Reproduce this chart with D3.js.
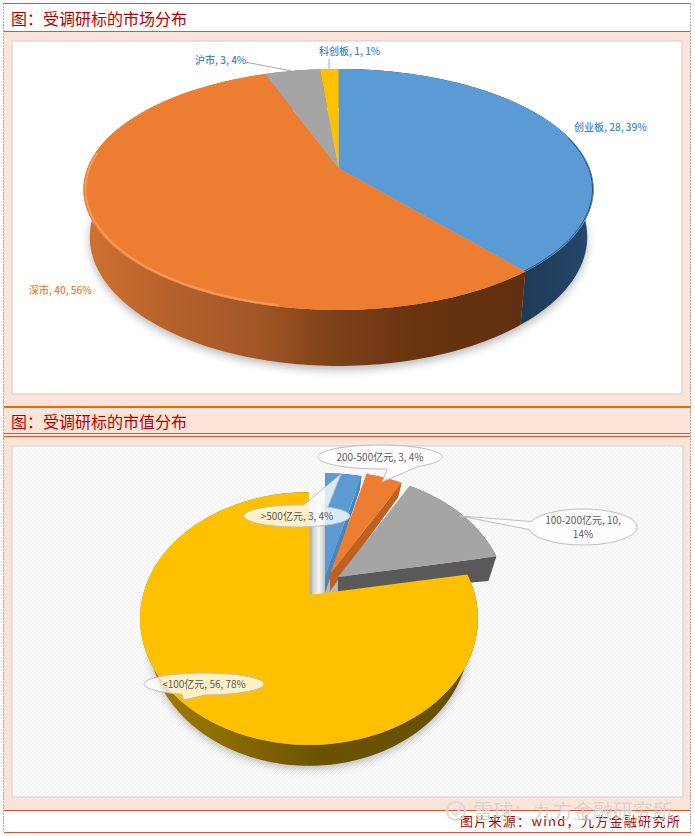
<!DOCTYPE html>
<html lang="zh">
<head>
<meta charset="UTF-8"/>
<title>受调研标的分布</title>
<script src="https://d3js.org/d3.v7.min.js"></script>
<style>
    html, body { margin: 0; padding: 0; background: #fff; }
    svg { display: block; }
    text { font-family: "Noto Sans CJK SC", sans-serif; }
</style>
</head>
<body>
<script>
    // chart 1: market
    var marketNames = ["创业板", "深市", "沪市", "科创板"];
    var marketValues = [28, 40, 3, 1];
    var marketPcts = ["39%", "56%", "4%", "1%"];

    // chart 2: market cap
    var capNames = [">500亿元", "200-500亿元", "100-200亿元", "<100亿元"];
    var capValues = [3, 3, 10, 56];
    var capPcts = ["4%", "4%", "14%", "78%"];

    var titles = ["图：受调研标的市场分布", "图：受调研标的市值分布"];
    var sourceText = "图片来源：wind，九方金融研究所";
    var watermark = "雪球：九方金融研究所";

    var w = 695, h = 836;
    var svg = d3.select("body").append("svg").attr("width", w).attr("height", h);
    var defs = svg.append("defs");

    function gradient(id, x1, x2, stops) {
        var g = defs.append("linearGradient").attr("id", id)
            .attr("gradientUnits", "userSpaceOnUse")
            .attr("x1", x1).attr("x2", x2).attr("y1", 0).attr("y2", 0);
        stops.forEach(function(s) {
            g.append("stop").attr("offset", s[0]).attr("stop-color", s[1]);
        });
        return "url(#" + id + ")";
    }

    var pat = defs.append("pattern").attr("id", "hatch").attr("width", 4).attr("height", 4)
        .attr("patternUnits", "userSpaceOnUse");
    pat.append("rect").attr("width", 4).attr("height", 4).attr("fill", "#fcfcfc");
    pat.append("path").attr("d", "M0,4L4,0").attr("stroke", "#efefef").attr("stroke-width", 1);

    defs.append("filter").attr("id", "blur").attr("x", "-10%").attr("y", "-10%")
        .attr("width", "120%").attr("height", "120%")
        .append("feGaussianBlur").attr("stdDeviation", 4);
    defs.append("filter").attr("id", "soft").attr("x", "-10%").attr("y", "-10%")
        .attr("width", "120%").attr("height", "120%")
        .append("feGaussianBlur").attr("stdDeviation", 0.6);

    // page frame
    var rule = "#e2512a";
    svg.append("rect").attr("x", 4).attr("y", 32).attr("width", 687).attr("height", 778).attr("fill", "#fde4d8");
    svg.append("rect").attr("x", 12).attr("y", 41).attr("width", 670).attr("height", 353)
        .attr("fill", "#fff").attr("stroke", "#c5ced6");
    svg.append("rect").attr("x", 12).attr("y", 446).attr("width", 671).attr("height", 351)
        .attr("fill", "url(#hatch)").attr("stroke", "#cfcfcf");
    svg.append("rect").attr("x", 4).attr("y", 811).attr("width", 687).attr("height", 21).attr("fill", "#fff");

    [[3.5, 1], [31.5, 1], [407, 2], [433.5, 1], [436.5, 1], [810.5, 1], [832.5, 1]].forEach(function(r) {
        svg.append("line").attr("x1", 4).attr("x2", 691).attr("y1", r[0]).attr("y2", r[0])
            .attr("stroke", r[0] == 407 ? "#e36c09" : rule).attr("stroke-width", r[1]);
    });
    [3.5, 690.5].forEach(function(x) {
        svg.append("line").attr("x1", x).attr("x2", x).attr("y1", 3).attr("y2", 832)
            .attr("stroke", "#aaa").attr("stroke-dasharray", "2,1");
    });

    svg.selectAll("text.title").data(titles).enter().append("text")
        .attr("class", "title")
        .attr("x", 11)
        .attr("y", function(d, i) { return i == 0 ? 25 : 428; })
        .attr("font-size", 16)
        .attr("fill", "#b80000")
        .text(function(d) { return d; });

    // a circle seen in perspective: v is towards the viewer, k is the foreshortening,
    // taper narrows the lower face of the disc
    function projector(cx, cy, R, S, k, depth, taper) {
        return function(a, r, down, shift) {
            var u = r * Math.sin(a), v = -r * Math.cos(a), q = 1 - k * v;
            var t = down ? taper : 1;
            return [cx + t * R * u / q + shift[0],
                    cy + S * v / q + shift[1] + (down ? depth / q : 0)];
        };
    }

    var line = d3.line();

    function arcPts(p, a0, a1, down, shift, r) {
        var n = Math.max(2, Math.ceil((a1 - a0) / 0.02));
        return d3.range(n + 1).map(function(i) {
            return p(a0 + (a1 - a0) * i / n, r || 1, down, shift);
        });
    }

    function drawWall(g, p, d, shift, wall) {
        var upper = arcPts(p, d.startAngle, d.endAngle, false, shift);
        var lower = arcPts(p, d.startAngle, d.endAngle, true, shift);
        g.append("path").attr("d", line(upper.concat(lower.reverse())) + "Z").attr("fill", wall);
    }

    // flat face left by the explosion, along the slice's end angle
    function drawCut(g, p, d, shift, cut, outerExtra) {
        var low = p(d.endAngle, 1, true, shift);
        g.append("path").attr("d", line([
            p(0, 0, false, shift), p(d.endAngle, 1, false, shift),
            [low[0], low[1] + outerExtra], p(0, 0, true, shift)
        ]) + "Z").attr("fill", cut);
    }

    function drawTop(g, p, d, shift, top) {
        var upper = arcPts(p, d.startAngle, d.endAngle, false, shift);
        g.append("path").attr("d", line([p(0, 0, false, shift)].concat(upper)) + "Z").attr("fill", top);
    }

    function shadow(g, p, a0, a1, dy, shift) {
        g.append("path")
            .attr("d", line(arcPts(p, a0, a1, true, [shift[0], shift[1] + dy])) + "Z")
            .attr("fill", "#555").attr("opacity", 0.4).attr("filter", "url(#blur)");
    }

    var pie = d3.pie().sort(null);
    var noShift = [0, 0];

    // ---- chart 1
    var p1 = projector(338.5, 168, 251, 116.7, 0.178, 46, 0.975);
    var arcs1 = pie(marketValues);
    var g1 = svg.append("g");
    var wall1 = [
        gradient("w1a", 525, 594, [[0, "#1e3a56"], [1, "#25486c"]]),
        gradient("w1b", 83, 525, [[0, "#d07230"], [0.2, "#b5612b"], [0.4, "#a25626"], [0.55, "#7f4219"], [0.75, "#693411"], [1, "#5f2f0f"]]),
        "#777", "#997000"
    ];
    var top1 = ["#5b9bd5", "#ed7d31", "#a5a5a5", "#ffc000"];

    shadow(g1, p1, 0, 2 * Math.PI, 4, noShift);
    arcs1.forEach(function(d, i) { drawWall(g1, p1, d, noShift, wall1[i]); });
    arcs1.forEach(function(d, i) { drawTop(g1, p1, d, noShift, top1[i]); });

    // light bevel along the orange rim, darker soft edge along the blue one
    g1.append("path")
        .attr("d", line(arcPts(p1, arcs1[1].startAngle + 0.9, 4.85, false, noShift, 0.992)))
        .attr("fill", "none").attr("stroke", "#f59a5c").attr("stroke-width", 2).attr("filter", "url(#soft)");
    g1.append("path")
        .attr("d", line(arcPts(p1, 1.3, arcs1[0].endAngle, false, noShift, 0.996)))
        .attr("fill", "none").attr("stroke", "#2b4f75").attr("stroke-width", 1).attr("filter", "url(#soft)");

    var labelPos1 = [[574, 131], [29, 294], [195, 64], [319, 55]];
    var labelCol1 = ["#3f87c9", "#ed7d31", "#3f87c9", "#3f87c9"];
    g1.selectAll("text").data(arcs1).enter().append("text")
        .attr("x", function(d, i) { return labelPos1[i][0]; })
        .attr("y", function(d, i) { return labelPos1[i][1]; })
        .attr("font-size", 10)
        .attr("font-weight", 500)
        .attr("fill", function(d, i) { return labelCol1[i]; })
        .text(function(d, i) { return marketNames[i] + ", " + d.value + ", " + marketPcts[i]; });

    g1.append("path").attr("d", "M245,62L292,71M329,59L329,69").attr("stroke", "#a6a6a6").attr("fill", "none");

    // ---- chart 2
    var p2 = projector(309, 595, 166, 122, 0.186, 17, 0.95);
    var arcs2 = pie(capValues);
    var g2 = svg.append("g");
    var explode = [[16, -19], [21, -21], [29, -18], [0, 0]];
    var top2 = ["#5b9bd5", "#ed7d31", "#a5a5a5", "#ffc000"];
    var wall2 = [
        "#4a84bd", "#c0601f", "#595959",
        gradient("w2d", 140, 472, [[0, "#a57f00"], [0.3, "#876800"], [0.55, "#6a5200"], [1, "#665000"]])
    ];
    var cut2 = ["#4a84bd", "#c0601f", "#595959", null];
    var cutExtra = [0, 0, 8, 0];

    shadow(g2, p2, arcs2[3].startAngle, arcs2[3].endAngle, 3, noShift);
    shadow(g2, p2, arcs2[2].startAngle, arcs2[2].endAngle, 10, explode[2]);

    // pale reflective strip between yellow and blue
    var strip = gradient("w2s", 312, 326, [[0, "#c9c9c9"], [0.5, "#f7f7f7"], [1, "#b9b9b9"]]);
    g2.append("rect").attr("x", 312).attr("y", 500).attr("width", 14).attr("height", 96).attr("fill", strip);

    arcs2.forEach(function(d, i) {
        drawWall(g2, p2, d, explode[i], wall2[i]);
        if (cut2[i]) drawCut(g2, p2, d, explode[i], cut2[i], cutExtra[i]);
        drawTop(g2, p2, d, explode[i], top2[i]);
    });

    // callouts: ellipse with a tail towards its slice
    function callout(cx, cy, rx, ry, tip, base, lines) {
        var a0 = base[0], a1 = base[1];
        var pts = d3.range(0, 61).map(function(i) {
            var t = a1 + (a0 + 2 * Math.PI - a1) * i / 60;
            return [cx + rx * Math.cos(t), cy + ry * Math.sin(t)];
        });
        pts.push(tip);
        g2.append("path").attr("d", line(pts) + "Z")
            .attr("fill", "#fff").attr("fill-opacity", 0.78)
            .attr("stroke", "#bdbdbd").attr("stroke-width", 1);
        lines.forEach(function(t, i) {
            g2.append("text").attr("x", cx).attr("y", cy + 3.5 + (i - (lines.length - 1) / 2) * 14)
                .attr("text-anchor", "middle").attr("font-size", 10).attr("fill", "#595959").text(t);
        });
    }

    function capLabel(i) { return capNames[i] + ", " + capValues[i] + ", " + capPcts[i]; }

    callout(297, 516, 53, 11, [341, 474], [-1.45, -0.95], [capLabel(0)]);
    callout(380, 457, 62, 12, [382, 482], [0.9, 1.45], [capLabel(1)]);
    callout(583, 527, 54, 18, [460, 516], [3.0, 3.45], [capNames[2] + ", " + capValues[2] + ",", capPcts[2]]);
    callout(204, 684, 60, 11, [184, 700], [1.55, 1.95], [capLabel(3)]);

    // ---- source line and watermark
    svg.append("text").attr("x", 681).attr("y", 826).attr("text-anchor", "end")
        .attr("font-size", 13).attr("letter-spacing", 1.3).attr("fill", "#b00000").text(sourceText);

    var mark = svg.append("g").attr("opacity", 0.85);
    mark.append("circle").attr("cx", 456).attr("cy", 811).attr("r", 9)
        .attr("fill", "none").attr("stroke", "#d8d8d8").attr("stroke-width", 2.5);
    mark.append("path").attr("d", "M451,811L456,816L461,806").attr("fill", "none").attr("stroke", "#d8d8d8").attr("stroke-width", 2);
    mark.append("text").attr("x", 473).attr("y", 819).attr("font-size", 20)
        .attr("fill", "#cfcfcf").text(watermark);
</script>
</body>
</html>
